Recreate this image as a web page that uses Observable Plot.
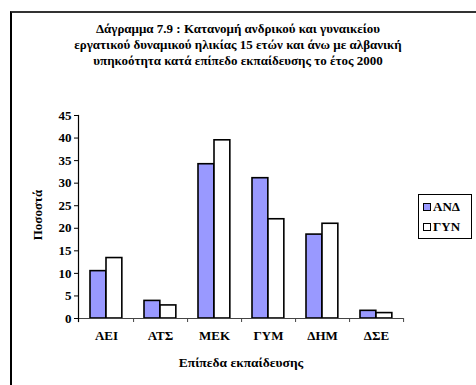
<!DOCTYPE html>
<html>
<head>
<meta charset="utf-8">
<script src="https://cdn.jsdelivr.net/npm/d3@7"></script>
<script src="https://cdn.jsdelivr.net/npm/@observablehq/plot@0.6"></script>
<style>
  html, body { margin: 0; padding: 0; background: #fff; overflow: hidden; }
  #wrap { position: relative; width: 476px; height: 385px; font-family: "Liberation Serif", "DejaVu Serif", serif; font-weight: bold; color: #000; }
  #frame { position: absolute; left: 10px; top: 11px; width: 500px; height: 420px; border-left: 2px solid #000; border-top: 2px solid #333; box-sizing: border-box; }
  #title { position: absolute; left: 0; width: 476px; top: 21px; text-align: center; font-size: 13px; line-height: 16px; }
  #chart { position: absolute; left: 0; top: 0; }
  #ytitle { position: absolute; left: 38px; top: 215px; transform: translate(-50%, -50%) rotate(-90deg); font-size: 13px; white-space: nowrap; }
  #xtitle { position: absolute; left: 241px; top: 363px; transform: translate(-50%, -50%); font-size: 13.5px; white-space: nowrap; }
  #legend { position: absolute; left: 418px; top: 194px; width: 54px; height: 45px; border: 1px solid #000; box-sizing: border-box; font-size: 13px; }
  .item { position: absolute; left: 4px; display: flex; align-items: center; line-height: 14px; }
  .sw { width: 6px; height: 6px; border: 1.5px solid #000; margin-right: 2px; }
</style>
</head>
<body>
<div id="wrap">
  <div id="frame"></div>
  <div id="title"></div>
  <div id="chart"></div>
  <div id="ytitle"></div>
  <div id="xtitle"></div>
  <div id="legend"></div>
</div>
<script>
const titleLines = [
  "Δάγραμμα 7.9 : Κατανομή ανδρικού και γυναικείου",
  "εργατικού δυναμικού ηλικίας 15 ετών και άνω με αλβανική",
  "υπηκοότητα κατά επίπεδο εκπαίδευσης το έτος 2000"
];
const yTitle = "Ποσοστά";
const xTitle = "Επίπεδα εκπαίδευσης";
const categories = ["ΑΕΙ", "ΑΤΣ", "ΜΕΚ", "ΓΥΜ", "ΔΗΜ", "ΔΣΕ"];
const series = ["ΑΝΔ", "ΓΥΝ"];
const male = [10.5, 3.9, 34.2, 31.1, 18.6, 1.7];
const female = [13.4, 2.9, 39.5, 22.0, 21.0, 1.2];
const yTicks = [0, 5, 10, 15, 20, 25, 30, 35, 40, 45];
const colors = ["#9999FF", "#FFFFFF"];

const maleData = categories.map((c, i) => ({cat: c, sex: series[0], v: male[i]}));
const femaleData = categories.map((c, i) => ({cat: c, sex: series[1], v: female[i]}));

document.getElementById("title").innerHTML = titleLines.join("<br>");
document.getElementById("ytitle").textContent = yTitle;
document.getElementById("xtitle").textContent = xTitle;

const legend = document.getElementById("legend");
series.forEach((s, i) => {
  const it = document.createElement("div");
  it.className = "item";
  it.style.top = (5 + i * 20) + "px";
  const sw = document.createElement("div");
  sw.className = "sw";
  sw.style.background = colors[i];
  const t = document.createElement("span");
  t.textContent = s;
  it.appendChild(sw); it.appendChild(t);
  legend.appendChild(it);
});

const W = 476, ML = 78, MR = 73;
const half = (W - ML - MR) / categories.length / 2;

const chart = Plot.plot({
  width: W,
  height: 385,
  marginLeft: ML,
  marginRight: MR,
  marginTop: 115,
  marginBottom: 67,
  style: {fontFamily: "'Liberation Serif', 'DejaVu Serif', serif", fontWeight: "bold", fontSize: "13px", color: "#000", background: "transparent"},
  x: {domain: categories, padding: 0, label: null},
  y: {domain: [0, 45], label: null},
  color: {domain: series, range: colors},
  marks: [
    Plot.barY(maleData, {x: "cat", y: "v", fill: "sex", stroke: "#000", strokeWidth: 1.6, insetLeft: 11, insetRight: 2 * half - 27}),
    Plot.barY(femaleData, {x: "cat", y: "v", fill: "sex", stroke: "#000", strokeWidth: 1.6, insetLeft: 27, insetRight: 2 * half - 43}),
    Plot.ruleY([0], {stroke: "#444", strokeWidth: 1.2}),
    Plot.frame({anchor: "left", stroke: "#000", strokeWidth: 1.2, insetBottom: -3}),
    Plot.axisY({ticks: yTicks, tickSize: 4, tickPadding: 3, label: null, stroke: "#000"}),
    Plot.axisX({tickSize: 4, dx: half, tickFormat: () => "", label: null, stroke: "#444"}),
    Plot.axisX({tickSize: 0, tickPadding: 12, label: null})
  ]
});
document.getElementById("chart").appendChild(chart);
</script>
</body>
</html>
